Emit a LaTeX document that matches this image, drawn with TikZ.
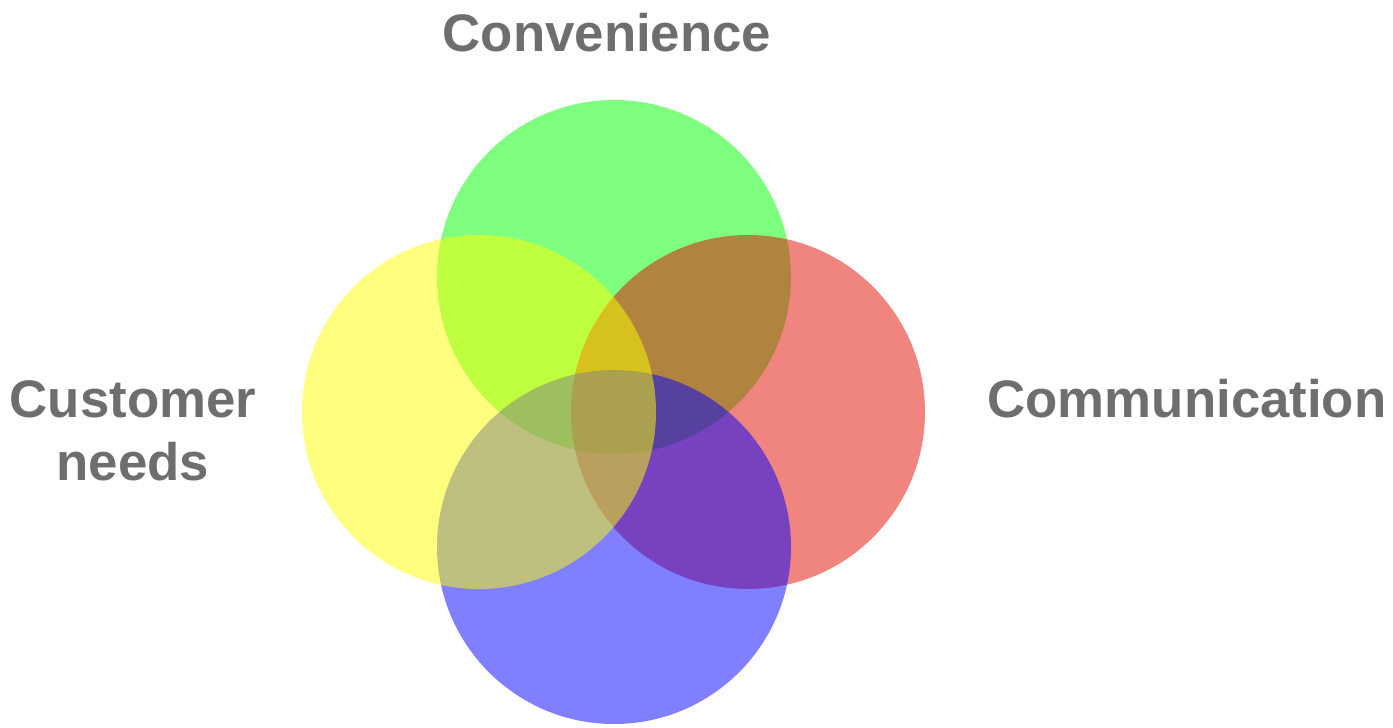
\documentclass[tikz,border=0pt]{standalone}
\usepackage{fontspec}
\setmainfont{Liberation Sans}
\usetikzlibrary{positioning}

\definecolor{labelgray}{RGB}{110,110,110}
\definecolor{vgreen}{RGB}{0,255,0}
\definecolor{vred}{RGB}{225,10,0}
\definecolor{vblue}{RGB}{0,0,255}
\definecolor{vyellow}{RGB}{255,255,0}

\begin{document}
\begin{tikzpicture}[x=0.5pt, y=-0.5pt,
    petal/.style={circle, draw=none, inner sep=0pt, minimum size=177pt, fill opacity=0.5},
    label/.style={text=labelgray, inner sep=0pt, anchor=base, align=center,
        font=\fontsize{26.4pt}{31.5pt}\selectfont\bfseries}]

    \useasboundingbox (0,0) rectangle (1393,728);

    % Circles, back to front
    \node[petal, fill=vgreen]  (convCircle) at (614,277) {};
    \node[petal, fill=vred]    (commCircle) at (748,412) {};
    \node[petal, fill=vblue]   (lowCircle)  at (614,547) {};
    \node[petal, fill=vyellow] (custCircle) at (479,412) {};

    % Labels (base = last line)
    \node[label] (conv) at (607,51)   {Convenience};
    \node[label] (cust) at (133,480)  {Customer\\needs};
    \node[label] (comm) at (1187,417) {Communication};

\end{tikzpicture}
\end{document}
